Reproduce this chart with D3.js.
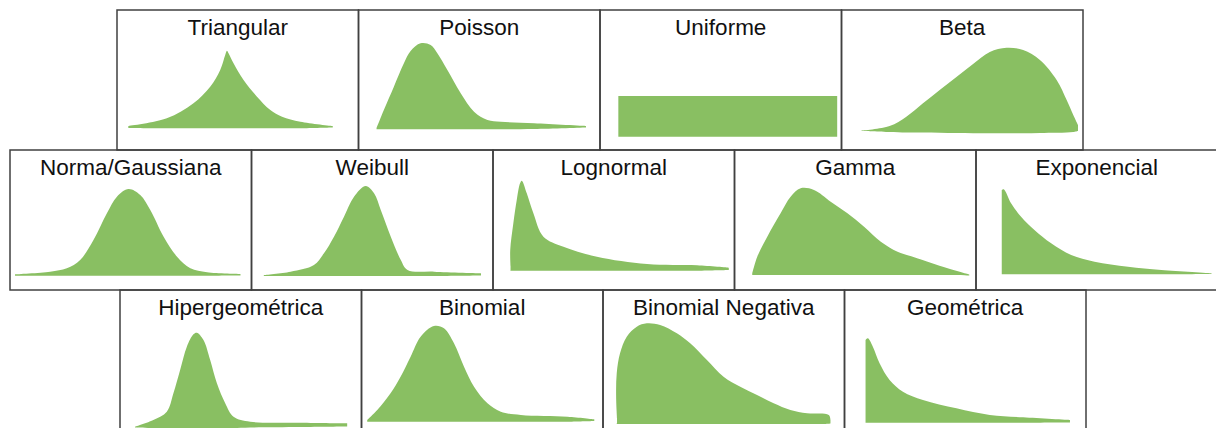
<!DOCTYPE html>
<html>
<head>
<meta charset="utf-8">
<script src="https://cdn.jsdelivr.net/npm/d3@7"></script>
<style>
  body { margin: 0; background: #fff; }
  svg { display: block; }
</style>
</head>
<body>
<div id="chart"></div>
<script>
var width = 1216,
    height = 428;

// panel names, row by row
var row1 = ["Triangular", "Poisson", "Uniforme", "Beta"];
var row2 = ["Norma/Gaussiana", "Weibull", "Lognormal", "Gamma", "Exponencial"];
var row3 = ["Hipergeométrica", "Binomial", "Binomial Negativa", "Geométrica"];

// shape outlines: [x, top, bottom]
// x in 0..24.1 across a panel, y in 0..14 from panel bottom
var triangular = [[1.13, 2.4, 2.2], [4.97, 3.17, 2.17], [7.63, 4.67, 2.17], [9.3, 6.33, 2.17], [10.3, 8.0, 2.17],
    [10.8, 9.5, 2.17], [10.97, 9.93, 2.17], [11.13, 9.67, 2.17], [11.63, 8.67, 2.17], [12.63, 7.0, 2.17],
    [13.97, 5.33, 2.17], [15.3, 4.0, 2.17], [16.47, 3.33, 2.17], [18.3, 2.83, 2.17], [21.53, 2.4, 2.25]];
var poisson = [[1.8, 2.2, 2.07], [2.53, 4.0, 2.07], [3.53, 6.33, 2.07], [4.53, 8.67, 2.07], [5.2, 9.9, 2.07],
    [6.2, 10.67, 2.07], [7.2, 10.5, 2.07], [7.87, 9.67, 2.07], [8.87, 8.0, 2.07], [10.2, 5.67, 2.07],
    [11.53, 3.83, 2.07], [12.87, 3.0, 2.07], [14.2, 2.83, 2.07], [17.53, 2.67, 2.1], [22.7, 2.4, 2.25]];
var uniforme = [[1.83, 5.4, 1.33], [23.67, 5.4, 1.33]];
var beta = [[1.97, 1.93, 1.9], [4.8, 2.4, 1.8], [6.47, 3.33, 1.75], [8.13, 4.67, 1.75], [9.8, 6.0, 1.73],
    [11.47, 7.3, 1.7], [13.13, 8.6, 1.68], [14.8, 9.8, 1.67], [16.47, 10.23, 1.67], [18.13, 10.0, 1.67],
    [19.8, 9.0, 1.7], [21.47, 7.0, 1.72], [22.47, 5.0, 1.75], [23.13, 3.5, 1.8], [23.6, 2.5, 1.9]];
var normal = [[0.5, 1.57, 1.43], [4.0, 1.83, 1.43], [5.67, 2.17, 1.43], [7.0, 3.0, 1.43], [8.33, 5.0, 1.43],
    [9.67, 7.67, 1.43], [10.67, 9.33, 1.43], [11.83, 10.1, 1.43], [13.0, 9.5, 1.43], [14.0, 8.0, 1.43],
    [15.33, 5.33, 1.43], [16.67, 3.33, 1.43], [18.0, 2.17, 1.43], [19.67, 1.77, 1.43], [23.0, 1.6, 1.45]];
var weibull = [[1.23, 1.5, 1.4], [3.9, 1.83, 1.4], [6.23, 2.5, 1.4], [7.23, 3.67, 1.4], [8.23, 5.33, 1.4],
    [9.23, 7.33, 1.4], [10.23, 9.33, 1.4], [11.4, 10.4, 1.4], [12.23, 9.67, 1.4], [12.9, 8.0, 1.4],
    [13.9, 5.33, 1.4], [14.9, 3.0, 1.4], [15.57, 2.0, 1.4], [18.23, 1.83, 1.4], [22.9, 1.67, 1.45]];
var lognormal = [[1.75, 2.4, 1.98], [1.72, 4.0, 1.93], [2.03, 6.67, 1.93], [2.37, 9.0, 1.93], [2.7, 10.67, 1.93],
    [2.87, 10.93, 1.93], [3.37, 9.67, 1.93], [4.03, 7.67, 1.93], [5.03, 5.33, 1.93], [7.03, 4.33, 1.93],
    [10.37, 3.33, 1.93], [15.37, 2.6, 1.93], [20.37, 2.47, 1.93], [23.53, 2.23, 2.0]];
var gamma = [[1.77, 1.67, 1.5], [2.27, 3.33, 1.5], [3.27, 5.33, 1.5], [4.6, 7.67, 1.5], [5.6, 9.33, 1.5],
    [6.6, 10.17, 1.5], [7.93, 10.0, 1.5], [9.6, 8.83, 1.5], [11.27, 7.67, 1.5], [12.93, 6.33, 1.5],
    [14.6, 4.83, 1.5], [16.27, 3.83, 1.5], [17.93, 3.27, 1.5], [21.27, 2.17, 1.5], [23.43, 1.55, 1.45]];
var exponencial = [[2.57, 10.0, 1.57], [2.77, 10.07, 1.57], [3.5, 8.67, 1.57], [4.5, 7.33, 1.57], [5.83, 6.0, 1.57],
    [7.5, 4.67, 1.57], [9.5, 3.5, 1.57], [11.83, 2.83, 1.57], [15.17, 2.33, 1.57], [18.5, 2.0, 1.57],
    [23.5, 1.67, 1.6]];
var hipergeometrica = [[1.5, 0.33, 0.25], [3.33, 1.0, 0.2], [4.67, 1.83, 0.2], [5.33, 3.67, 0.2], [6.0, 6.0, 0.2],
    [6.67, 8.33, 0.2], [7.33, 9.57, 0.2], [7.67, 9.73, 0.2], [8.33, 9.0, 0.2], [9.0, 7.0, 0.2],
    [9.67, 4.67, 0.2], [10.5, 2.67, 0.2], [11.33, 1.33, 0.2], [13.0, 0.83, 0.25], [18.0, 0.73, 0.3],
    [22.67, 0.67, 0.35]];
var binomial = [[0.57, 1.0, 0.83], [1.57, 2.0, 0.83], [2.9, 3.67, 0.83], [3.9, 5.33, 0.83], [4.9, 7.33, 0.83],
    [5.9, 9.33, 0.83], [7.23, 10.4, 0.83], [8.23, 10.17, 0.83], [9.23, 8.67, 0.83], [10.23, 6.33, 0.83],
    [11.23, 4.33, 0.83], [12.57, 2.67, 0.83], [13.9, 1.83, 0.83], [15.9, 1.5, 0.83], [20.57, 1.33, 0.83],
    [23.23, 1.07, 0.9]];
var binomialNegativa = [[1.4, 1.2, 0.65], [1.31, 3.33, 0.6], [1.37, 5.67, 0.6], [1.7, 7.67, 0.6], [2.37, 9.33, 0.6],
    [3.37, 10.33, 0.6], [4.37, 10.67, 0.6], [5.7, 10.5, 0.6], [7.37, 9.67, 0.6], [8.7, 8.67, 0.6],
    [10.37, 7.0, 0.6], [12.03, 5.33, 0.6], [13.7, 4.33, 0.6], [15.37, 3.5, 0.6], [17.03, 2.67, 0.6],
    [18.7, 2.0, 0.6], [20.37, 1.67, 0.6], [22.53, 1.5, 0.62], [22.7, 1.0, 0.65]];
var geometrica = [[2.1, 9.0, 0.73], [2.33, 9.17, 0.73], [2.83, 8.33, 0.73], [3.5, 6.67, 0.73], [4.5, 5.0, 0.73],
    [5.83, 3.83, 0.73], [7.83, 3.0, 0.73], [11.17, 2.17, 0.73], [14.5, 1.5, 0.73], [17.83, 1.27, 0.73],
    [22.5, 1.0, 0.75]];

var shapes1 = [triangular, poisson, uniforme, beta];
var shapes2 = [normal, weibull, lognormal, gamma, exponencial];
var shapes3 = [hipergeometrica, binomial, binomialNegativa, geometrica];

var cellW = 241.5,
    cellH = 140;

var rows = [
    { names: row1, shapes: shapes1, left: 117, top: 10 },
    { names: row2, shapes: shapes2, left: 10, top: 150 },
    { names: row3, shapes: shapes3, left: 120, top: 290 }
];

var svg = d3.select("#chart").append("svg")
    .attr("width", width)
    .attr("height", height);

var x = d3.scaleLinear().domain([0, 24.1]).range([0, cellW]);
var y = d3.scaleLinear().domain([0, 14]).range([cellH, 0]);

var area = d3.area()
    .x(function(d) { return x(d[0]); })
    .y0(function(d) { return y(d[2]); })
    .y1(function(d) { return y(d[1]); })
    .curve(d3.curveCatmullRom.alpha(0.5));

rows.forEach(function(row) {
    var cells = svg.append("g").selectAll(".cell")
        .data(row.names)
        .enter().append("g")
        .attr("class", "cell")
        .attr("transform", function(d, i) {
            return "translate(" + (row.left + i * cellW) + "," + row.top + ")";
        });

    cells.append("path")
        .attr("d", function(d, i) { return area(row.shapes[i]); })
        .style("fill", "#89bf62");

    cells.append("text")
        .attr("x", cellW / 2)
        .attr("y", 25)
        .attr("text-anchor", "middle")
        .style("font-family", "'Liberation Sans', Arial, sans-serif")
        .style("font-size", "22.5px")
        .style("fill", "#111")
        .text(function(d) { return d; });

    cells.append("rect")
        .attr("width", cellW)
        .attr("height", cellH)
        .style("fill", "none")
        .style("stroke", "#404040")
        .style("stroke-width", 1.5);
});
</script>
</body>
</html>
